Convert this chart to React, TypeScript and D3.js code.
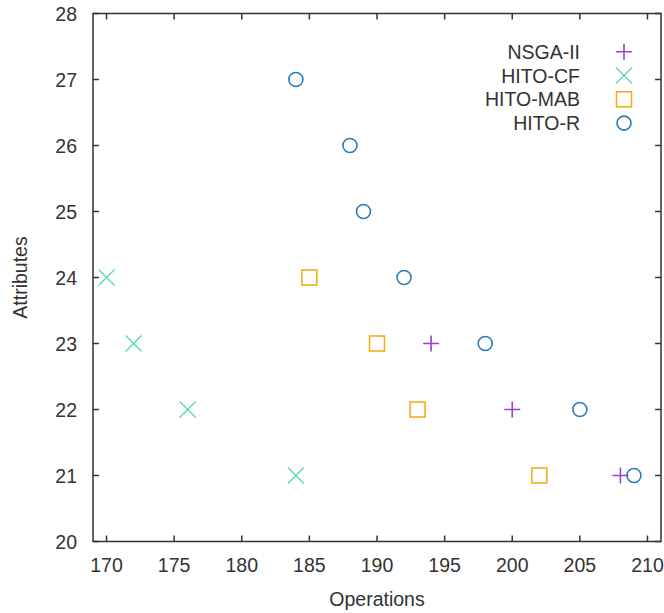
import React from "react";
import * as d3 from "d3";

const xTicks = [170, 175, 180, 185, 190, 195, 200, 205, 210];
const yTicks = [20, 21, 22, 23, 24, 25, 26, 27, 28];

const nsgaOps = [194, 200, 208];
const nsgaAttr = [23, 22, 21];
const cfOps = [170, 172, 176, 184];
const cfAttr = [24, 23, 22, 21];
const mabOps = [185, 190, 193, 202];
const mabAttr = [24, 23, 22, 21];
const rOps = [184, 188, 189, 192, 198, 205, 209];
const rAttr = [27, 26, 25, 24, 23, 22, 21];

const seriesNames = ["NSGA-II", "HITO-CF", "HITO-MAB", "HITO-R"];
const seriesColors = ["#a040c8", "#5cdcac", "#f2ae1c", "#2b7bba"];
const seriesShapes = ["plus", "cross", "square", "circle"];

const W = 664, H = 613;
const L = 93, R = 661, T = 13.5, B = 541.5;
const FONT = "'Liberation Sans', Arial, sans-serif";
const TEXT = "#333";

function Marker({ shape, x, y, color }: { shape: string; x: number; y: number; color: string }) {
  const s = 8;
  if (shape === "plus")
    return <path d={`M${x - s},${y}H${x + s}M${x},${y - s}V${y + s}`} stroke={color} strokeWidth={1.6} fill="none" />;
  if (shape === "cross")
    return <path d={`M${x - s},${y - s}L${x + s},${y + s}M${x - s},${y + s}L${x + s},${y - s}`} stroke={color} strokeWidth={1.4} fill="none" />;
  if (shape === "square")
    return <rect x={x - 7.5} y={y - 7.5} width={15} height={15} stroke={color} strokeWidth={1.6} fill="none" />;
  return <circle cx={x} cy={y} r={7} stroke={color} strokeWidth={1.6} fill="none" />;
}

export default function App() {
  const x = d3.scaleLinear().domain([169, 211]).range([L, R]);
  const y = d3.scaleLinear().domain([20, 28]).range([B, T]);
  const series = [
    { ops: nsgaOps, attr: nsgaAttr },
    { ops: cfOps, attr: cfAttr },
    { ops: mabOps, attr: mabAttr },
    { ops: rOps, attr: rAttr },
  ];
  const tl = 6;
  return (
    <svg width={W} height={H} style={{ position: "absolute", left: 0, top: 0, background: "#fff" }} fontFamily={FONT}>
      <rect x={0} y={0} width={W} height={H} fill="#fff" />
      {xTicks.map((t) => (
        <g key={"x" + t}>
          <line x1={x(t)} x2={x(t)} y1={B} y2={B - tl} stroke="#333" strokeWidth={1.5} />
          <line x1={x(t)} x2={x(t)} y1={T} y2={T + tl} stroke="#333" strokeWidth={1.5} />
          <text x={x(t)} y={572} textAnchor="middle" fontSize={19.5} fill={TEXT}>{t}</text>
        </g>
      ))}
      {yTicks.map((t) => (
        <g key={"y" + t}>
          <line x1={L} x2={L + tl} y1={y(t)} y2={y(t)} stroke="#333" strokeWidth={1.5} />
          <line x1={R} x2={R - tl} y1={y(t)} y2={y(t)} stroke="#333" strokeWidth={1.5} />
          <text x={77} y={y(t) + 7} textAnchor="end" fontSize={19.5} fill={TEXT}>{t}</text>
        </g>
      ))}
      <rect x={L} y={T} width={R - L} height={B - T} fill="none" stroke="#333" strokeWidth={1.5} />
      {series.map((s, i) =>
        s.ops.map((o, j) => (
          <Marker key={i + "-" + j} shape={seriesShapes[i]} x={x(o)} y={y(s.attr[j])} color={seriesColors[i]} />
        ))
      )}
      {seriesNames.map((n, i) => {
        const cy = 51.7 + i * 23.8;
        return (
          <g key={n}>
            <text x={580} y={cy + 7} textAnchor="end" fontSize={19.5} fill={TEXT}>{n}</text>
            <Marker shape={seriesShapes[i]} x={624} y={cy} color={seriesColors[i]} />
          </g>
        );
      })}
      <text x={(L + R) / 2} y={606} textAnchor="middle" fontSize={19.5} fill={TEXT}>Operations</text>
      <text transform={`translate(27,${(T + B) / 2}) rotate(-90)`} textAnchor="middle" fontSize={19.5} fill={TEXT}>Attributes</text>
    </svg>
  );
}
